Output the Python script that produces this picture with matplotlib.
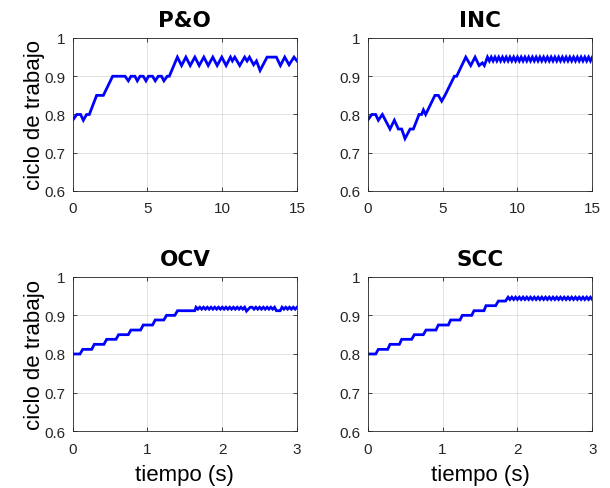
import matplotlib
matplotlib.use("Agg")
import matplotlib.pyplot as plt

plt.rcParams["font.family"] = ["Liberation Sans", "DejaVu Sans"]

# P&O
poT = [0.0, 0.27, 0.53, 0.71, 0.93, 1.11, 1.6, 2.05, 2.67, 3.5, 3.72, 3.9, 4.16, 4.32, 4.5,
       4.72, 4.9, 5.07, 5.34, 5.52, 5.72, 5.94, 6.1, 6.32, 6.46, 7.0, 7.28, 7.57, 7.86, 8.17,
       8.46, 8.77, 9.06, 9.37, 9.66, 9.97, 10.26, 10.55, 10.68, 10.84, 11.17, 11.5, 11.66,
       11.82, 12.1, 12.29, 12.53, 13.0, 13.62, 13.89, 14.18, 14.47, 14.8, 15.0]
poD = [0.785, 0.80, 0.80, 0.785, 0.80, 0.80, 0.85, 0.85, 0.90, 0.90, 0.888, 0.90, 0.90, 0.888, 0.90,
       0.90, 0.888, 0.90, 0.90, 0.888, 0.90, 0.90, 0.888, 0.90, 0.90, 0.95, 0.928, 0.95, 0.928, 0.95,
       0.928, 0.95, 0.928, 0.95, 0.928, 0.95, 0.928, 0.95, 0.94, 0.95, 0.928, 0.95, 0.94,
       0.95, 0.93, 0.94, 0.915, 0.95, 0.95, 0.928, 0.95, 0.93, 0.95, 0.94]

# INC
incT = [0.0, 0.27, 0.53, 0.71, 0.98, 1.49, 1.78, 2.05, 2.27, 2.49, 2.83, 3.05, 3.43, 3.6, 3.72,
        3.87, 4.49, 4.72, 4.94, 5.16, 5.79, 5.94, 6.55, 6.88, 7.17, 7.44, 7.66, 7.79,
        8.0, 8.125, 8.25, 8.375, 8.5, 8.625, 8.75, 8.875, 9.0, 9.125, 9.25, 9.375, 9.5, 9.625,
        9.75, 9.875, 10.0, 10.125, 10.25, 10.375, 10.5, 10.625, 10.75, 10.875, 11.0, 11.125,
        11.25, 11.375, 11.5, 11.625, 11.75, 11.875, 12.0, 12.125, 12.25, 12.375, 12.5, 12.625,
        12.75, 12.875, 13.0, 13.125, 13.25, 13.375, 13.5, 13.625, 13.75, 13.875, 14.0, 14.125,
        14.25, 14.375, 14.5, 14.625, 14.75, 14.875, 15.0]
incD = [0.785, 0.80, 0.80, 0.785, 0.80, 0.762, 0.785, 0.762, 0.762, 0.737, 0.762, 0.762, 0.80, 0.80, 0.812,
        0.80, 0.85, 0.85, 0.835, 0.85, 0.90, 0.90, 0.95, 0.928, 0.95, 0.928, 0.935, 0.928,
        0.95, 0.94, 0.95, 0.94, 0.95, 0.94, 0.95, 0.94, 0.95, 0.94, 0.95, 0.94, 0.95, 0.94,
        0.95, 0.94, 0.95, 0.94, 0.95, 0.94, 0.95, 0.94, 0.95, 0.94, 0.95, 0.94,
        0.95, 0.94, 0.95, 0.94, 0.95, 0.94, 0.95, 0.94, 0.95, 0.94, 0.95, 0.94,
        0.95, 0.94, 0.95, 0.94, 0.95, 0.94, 0.95, 0.94, 0.95, 0.94, 0.95, 0.94,
        0.95, 0.94, 0.95, 0.94, 0.95, 0.94, 0.95]

# OCV
ocvT = [0.0, 0.098, 0.134, 0.254, 0.289, 0.418, 0.454, 0.579, 0.614, 0.743, 0.779, 0.908,
        0.943, 1.068, 1.104, 1.219, 1.255, 1.366, 1.402, 1.633,
        1.65, 1.675, 1.7, 1.725, 1.75, 1.775, 1.8, 1.825, 1.85, 1.875, 1.9, 1.925, 1.95, 1.975,
        2.0, 2.025, 2.05, 2.075, 2.1, 2.125, 2.15, 2.175, 2.2, 2.225, 2.25, 2.275, 2.3, 2.325,
        2.35, 2.375, 2.4, 2.425, 2.45, 2.475, 2.5, 2.525, 2.55, 2.575, 2.6, 2.625, 2.65, 2.675,
        2.7, 2.725, 2.75, 2.775, 2.8, 2.825, 2.85, 2.875, 2.9, 2.925, 2.95, 2.975, 3.0]
ocvD = [0.80, 0.80, 0.812, 0.812, 0.825, 0.825, 0.838, 0.838, 0.85, 0.85, 0.862, 0.862,
        0.875, 0.875, 0.888, 0.888, 0.90, 0.90, 0.912, 0.912,
        0.921, 0.916, 0.921, 0.916, 0.921, 0.916, 0.921, 0.916, 0.921, 0.916, 0.921, 0.916, 0.921, 0.916,
        0.921, 0.916, 0.921, 0.916, 0.921, 0.916, 0.921, 0.916, 0.921, 0.916, 0.921, 0.916, 0.921, 0.911,
        0.916, 0.921, 0.921, 0.916, 0.921, 0.916, 0.921, 0.916, 0.921, 0.916, 0.921, 0.916, 0.921, 0.916,
        0.921, 0.912, 0.912, 0.912, 0.921, 0.916, 0.921, 0.916, 0.921, 0.916, 0.921, 0.916, 0.921]

# SCC
sccT = [0.0, 0.107, 0.142, 0.267, 0.298, 0.423, 0.454, 0.587, 0.623, 0.743, 0.779, 0.912,
        0.943, 1.077, 1.108, 1.233, 1.264, 1.389, 1.42, 1.553, 1.58, 1.709, 1.745, 1.842,
        1.875, 1.9, 1.925, 1.95, 1.975, 2.0, 2.025, 2.05, 2.075, 2.1, 2.125, 2.15, 2.175, 2.2,
        2.225, 2.25, 2.275, 2.3, 2.325, 2.35, 2.375, 2.4, 2.425, 2.45, 2.475, 2.5, 2.525, 2.55,
        2.575, 2.6, 2.625, 2.65, 2.675, 2.7, 2.725, 2.75, 2.775, 2.8, 2.825, 2.85, 2.875, 2.9,
        2.925, 2.95, 2.975, 3.0]
sccD = [0.80, 0.80, 0.812, 0.812, 0.825, 0.825, 0.838, 0.838, 0.85, 0.85, 0.862, 0.862,
        0.875, 0.875, 0.888, 0.888, 0.90, 0.90, 0.912, 0.912, 0.925, 0.925, 0.937, 0.937,
        0.947, 0.941, 0.947, 0.941, 0.947, 0.941, 0.947, 0.941, 0.947, 0.941, 0.947, 0.941, 0.947, 0.941,
        0.947, 0.941, 0.947, 0.941, 0.947, 0.941, 0.947, 0.941, 0.947, 0.941, 0.947, 0.941, 0.947, 0.941,
        0.947, 0.941, 0.947, 0.941, 0.947, 0.941, 0.947, 0.941, 0.947, 0.941, 0.947, 0.941, 0.947, 0.941,
        0.947, 0.941, 0.947, 0.941]

titles = ["P&O", "INC", "OCV", "SCC"]
yTicks = [0.6, 0.7, 0.8, 0.9, 1.0]
yTickLabels = ["0.6", "0.7", "0.8", "0.9", "1"]
xTicksTop = [0, 5, 10, 15]
xTicksBottom = [0, 1, 2, 3]

W, H = 610, 489
fig = plt.figure(figsize=(W / 100, H / 100), dpi=100)

# axes boxes in pixels: left, top, right, bottom
boxes = [(72.7, 39.0, 297.0, 192.0), (367.7, 39.0, 592.3, 192.0),
         (72.7, 277.7, 297.0, 432.3), (367.7, 277.7, 592.3, 432.3)]
series = [(poT, poD), (incT, incD), (ocvT, ocvD), (sccT, sccD)]
edge = (0.15, 0.15, 0.15)

for i, ((l, t, r, b), (xs, ys)) in enumerate(zip(boxes, series)):
    ax = fig.add_axes([l / W, 1 - b / H, (r - l) / W, (b - t) / H])
    ax.plot(xs, ys, color="#0000ff", linewidth=2.0, solid_joinstyle="miter")
    xt = xTicksTop if i < 2 else xTicksBottom
    ax.set_xlim(xt[0], xt[-1])
    ax.set_ylim(0.6, 1.0)
    ax.set_xticks(xt)
    ax.set_xticklabels([str(v) for v in xt])
    ax.set_yticks(yTicks)
    ax.set_yticklabels(yTickLabels)
    ax.grid(True, color=edge, alpha=0.15, linewidth=0.6)
    ax.tick_params(direction="in", length=3, width=0.6, colors=edge, labelsize=11,
                   top=True, right=True)
    ax.tick_params(axis="x", pad=7.5)
    ax.tick_params(axis="y", pad=5)
    for sp in ax.spines.values():
        sp.set_color(edge)
        sp.set_linewidth(0.6)
    ax.set_title(titles[i], fontsize=15.5, fontweight="bold", pad=8.5,
                 family=["DejaVu Sans"])
    if i % 2 == 0:
        ax.set_ylabel("ciclo de trabajo", fontsize=16, labelpad=0)
    if i >= 2:
        ax.set_xlabel("tiempo (s)", fontsize=16, labelpad=6)

fig.savefig("out.png", dpi=100)
